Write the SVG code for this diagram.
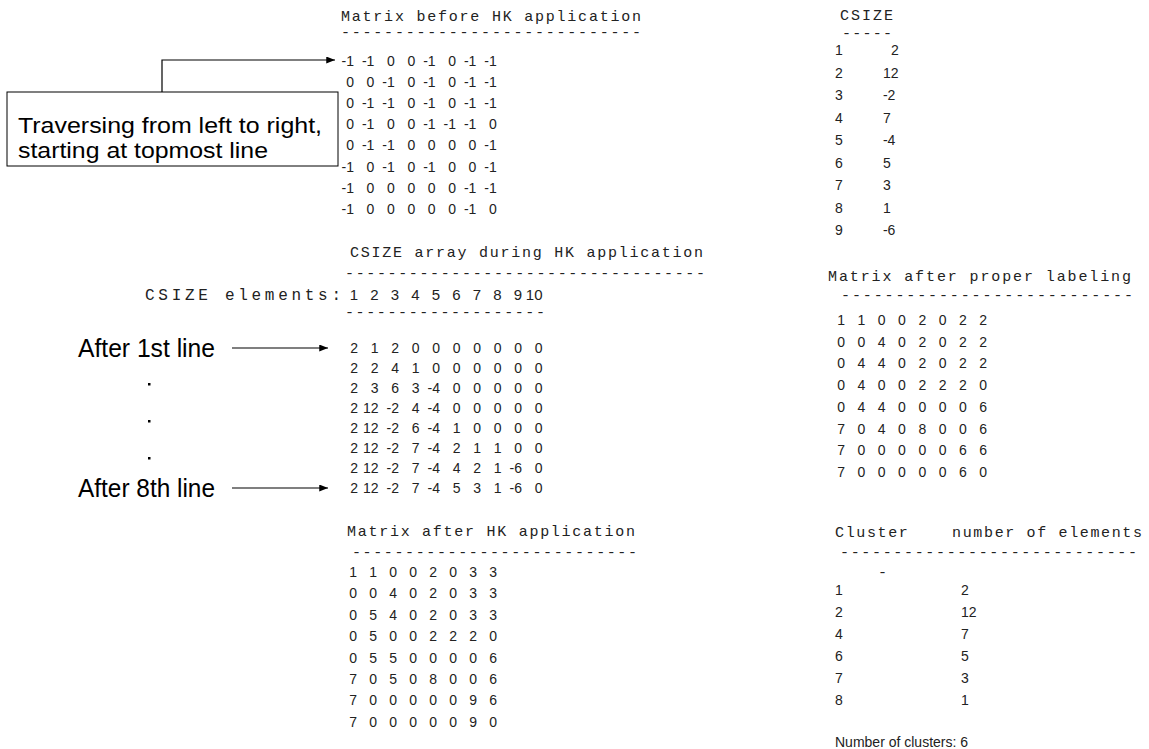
<svg xmlns="http://www.w3.org/2000/svg" width="1149" height="749" viewBox="0 0 1149 749">
<style>
.m{font-family:"Liberation Mono","Courier New",monospace;font-size:15px;fill:#222}
.mb{font-family:"Liberation Mono","Courier New",monospace;font-size:16px;fill:#222}
.n{font-family:"Liberation Sans",Arial,sans-serif;font-size:14px;fill:#222;text-anchor:end}
.s{font-family:"Liberation Sans",Arial,sans-serif;font-size:14px;fill:#222}
.big{font-family:"Liberation Sans",Arial,sans-serif;font-size:25px;fill:#000}
.bx{font-family:"Liberation Sans",Arial,sans-serif;font-size:22px;fill:#000}
.ln{fill:none;stroke:#000;stroke-width:1.2}
</style>
<defs>
<marker id="ah" markerUnits="userSpaceOnUse" viewBox="0 0 10 8" refX="10" refY="4" markerWidth="9" markerHeight="7" orient="auto"><path d="M0,0 L10,4 L0,8 z" fill="#000"/></marker>
</defs>
<rect width="1149" height="749" fill="#fff"/>

<g id="callout">
<rect x="7" y="92" width="331" height="74" fill="#fff" stroke="#000" stroke-width="1"/>
<text class="bx" x="18" y="133" textLength="304" lengthAdjust="spacingAndGlyphs">Traversing from left to right,</text>
<text class="bx" x="18" y="158" textLength="250" lengthAdjust="spacingAndGlyphs">starting at topmost line</text>
</g>

<g id="labels-left">
<text class="big" x="78" y="357" textLength="137" lengthAdjust="spacingAndGlyphs">After 1st line</text>
<text class="big" x="78" y="497" textLength="137" lengthAdjust="spacingAndGlyphs">After 8th line</text>
<rect x="148" y="383" width="2.5" height="2.5" fill="#000"/>
<rect x="148" y="420" width="2.5" height="2.5" fill="#000"/>
<rect x="148" y="457" width="2.5" height="2.5" fill="#000"/>
</g>

<g id="connectors">
<path class="ln" d="M162,92 V60 H335" marker-end="url(#ah)"/>
<path class="ln" d="M232,348 H328" marker-end="url(#ah)"/>
<path class="ln" d="M232,488 H328" marker-end="url(#ah)"/>
</g>

<g id="matrix-before">
<text class="m" x="341" y="21" textLength="300">Matrix before HK application</text>
<text class="m" x="341" y="36.5" textLength="300">----------------------------</text>
<text class="n" y="65.5"><tspan x="354">-1</tspan><tspan x="374.4">-1</tspan><tspan x="394.8"> 0</tspan><tspan x="415.2"> 0</tspan><tspan x="435.6">-1</tspan><tspan x="456"> 0</tspan><tspan x="476.4">-1</tspan><tspan x="496.8">-1</tspan></text>
<text class="n" y="86.7"><tspan x="354">0</tspan><tspan x="374.4"> 0</tspan><tspan x="394.8">-1</tspan><tspan x="415.2"> 0</tspan><tspan x="435.6">-1</tspan><tspan x="456"> 0</tspan><tspan x="476.4">-1</tspan><tspan x="496.8">-1</tspan></text>
<text class="n" y="107.9"><tspan x="354">0</tspan><tspan x="374.4">-1</tspan><tspan x="394.8">-1</tspan><tspan x="415.2"> 0</tspan><tspan x="435.6">-1</tspan><tspan x="456"> 0</tspan><tspan x="476.4">-1</tspan><tspan x="496.8">-1</tspan></text>
<text class="n" y="129.1"><tspan x="354">0</tspan><tspan x="374.4">-1</tspan><tspan x="394.8"> 0</tspan><tspan x="415.2"> 0</tspan><tspan x="435.6">-1</tspan><tspan x="456">-1</tspan><tspan x="476.4">-1</tspan><tspan x="496.8"> 0</tspan></text>
<text class="n" y="150.3"><tspan x="354">0</tspan><tspan x="374.4">-1</tspan><tspan x="394.8">-1</tspan><tspan x="415.2"> 0</tspan><tspan x="435.6"> 0</tspan><tspan x="456"> 0</tspan><tspan x="476.4"> 0</tspan><tspan x="496.8">-1</tspan></text>
<text class="n" y="171.5"><tspan x="354">-1</tspan><tspan x="374.4"> 0</tspan><tspan x="394.8">-1</tspan><tspan x="415.2"> 0</tspan><tspan x="435.6">-1</tspan><tspan x="456"> 0</tspan><tspan x="476.4"> 0</tspan><tspan x="496.8">-1</tspan></text>
<text class="n" y="192.7"><tspan x="354">-1</tspan><tspan x="374.4"> 0</tspan><tspan x="394.8"> 0</tspan><tspan x="415.2"> 0</tspan><tspan x="435.6"> 0</tspan><tspan x="456"> 0</tspan><tspan x="476.4">-1</tspan><tspan x="496.8">-1</tspan></text>
<text class="n" y="213.9"><tspan x="354">-1</tspan><tspan x="374.4"> 0</tspan><tspan x="394.8"> 0</tspan><tspan x="415.2"> 0</tspan><tspan x="435.6"> 0</tspan><tspan x="456"> 0</tspan><tspan x="476.4">-1</tspan><tspan x="496.8"> 0</tspan></text>
</g>

<g id="csize-array">
<text class="m" x="350" y="257" textLength="353">CSIZE array during HK application</text>
<text class="m" x="345" y="277.5" textLength="360">----------------------------------</text>
<text class="mb" x="341" y="300" text-anchor="end" textLength="196">CSIZE elements:</text>
<text class="n" y="300" style="font-size:15px"><tspan x="358">1</tspan><tspan x="378.5"> 2</tspan><tspan x="399"> 3</tspan><tspan x="419.5"> 4</tspan><tspan x="440"> 5</tspan><tspan x="460.5"> 6</tspan><tspan x="481"> 7</tspan><tspan x="501.5"> 8</tspan><tspan x="522"> 9</tspan><tspan x="542.5">10</tspan></text>
<text class="m" x="345" y="316.5" textLength="200">-------------------</text>
<text class="n" y="353"><tspan x="358">2</tspan><tspan x="378.5"> 1</tspan><tspan x="399"> 2</tspan><tspan x="419.5"> 0</tspan><tspan x="440"> 0</tspan><tspan x="460.5"> 0</tspan><tspan x="481"> 0</tspan><tspan x="501.5"> 0</tspan><tspan x="522"> 0</tspan><tspan x="542.5"> 0</tspan></text>
<text class="n" y="373"><tspan x="358">2</tspan><tspan x="378.5"> 2</tspan><tspan x="399"> 4</tspan><tspan x="419.5"> 1</tspan><tspan x="440"> 0</tspan><tspan x="460.5"> 0</tspan><tspan x="481"> 0</tspan><tspan x="501.5"> 0</tspan><tspan x="522"> 0</tspan><tspan x="542.5"> 0</tspan></text>
<text class="n" y="393"><tspan x="358">2</tspan><tspan x="378.5"> 3</tspan><tspan x="399"> 6</tspan><tspan x="419.5"> 3</tspan><tspan x="440">-4</tspan><tspan x="460.5"> 0</tspan><tspan x="481"> 0</tspan><tspan x="501.5"> 0</tspan><tspan x="522"> 0</tspan><tspan x="542.5"> 0</tspan></text>
<text class="n" y="413"><tspan x="358">2</tspan><tspan x="378.5">12</tspan><tspan x="399">-2</tspan><tspan x="419.5"> 4</tspan><tspan x="440">-4</tspan><tspan x="460.5"> 0</tspan><tspan x="481"> 0</tspan><tspan x="501.5"> 0</tspan><tspan x="522"> 0</tspan><tspan x="542.5"> 0</tspan></text>
<text class="n" y="433"><tspan x="358">2</tspan><tspan x="378.5">12</tspan><tspan x="399">-2</tspan><tspan x="419.5"> 6</tspan><tspan x="440">-4</tspan><tspan x="460.5"> 1</tspan><tspan x="481"> 0</tspan><tspan x="501.5"> 0</tspan><tspan x="522"> 0</tspan><tspan x="542.5"> 0</tspan></text>
<text class="n" y="453"><tspan x="358">2</tspan><tspan x="378.5">12</tspan><tspan x="399">-2</tspan><tspan x="419.5"> 7</tspan><tspan x="440">-4</tspan><tspan x="460.5"> 2</tspan><tspan x="481"> 1</tspan><tspan x="501.5"> 1</tspan><tspan x="522"> 0</tspan><tspan x="542.5"> 0</tspan></text>
<text class="n" y="473"><tspan x="358">2</tspan><tspan x="378.5">12</tspan><tspan x="399">-2</tspan><tspan x="419.5"> 7</tspan><tspan x="440">-4</tspan><tspan x="460.5"> 4</tspan><tspan x="481"> 2</tspan><tspan x="501.5"> 1</tspan><tspan x="522">-6</tspan><tspan x="542.5"> 0</tspan></text>
<text class="n" y="493"><tspan x="358">2</tspan><tspan x="378.5">12</tspan><tspan x="399">-2</tspan><tspan x="419.5"> 7</tspan><tspan x="440">-4</tspan><tspan x="460.5"> 5</tspan><tspan x="481"> 3</tspan><tspan x="501.5"> 1</tspan><tspan x="522">-6</tspan><tspan x="542.5"> 0</tspan></text>
</g>

<g id="matrix-after">
<text class="m" x="347" y="536" textLength="288">Matrix after HK application</text>
<text class="m" x="352" y="556.5" textLength="285">---------------------------</text>
<text class="n" y="577"><tspan x="357">1</tspan><tspan x="377"> 1</tspan><tspan x="397"> 0</tspan><tspan x="417"> 0</tspan><tspan x="437"> 2</tspan><tspan x="457"> 0</tspan><tspan x="477"> 3</tspan><tspan x="497"> 3</tspan></text>
<text class="n" y="598.4"><tspan x="357">0</tspan><tspan x="377"> 0</tspan><tspan x="397"> 4</tspan><tspan x="417"> 0</tspan><tspan x="437"> 2</tspan><tspan x="457"> 0</tspan><tspan x="477"> 3</tspan><tspan x="497"> 3</tspan></text>
<text class="n" y="619.8"><tspan x="357">0</tspan><tspan x="377"> 5</tspan><tspan x="397"> 4</tspan><tspan x="417"> 0</tspan><tspan x="437"> 2</tspan><tspan x="457"> 0</tspan><tspan x="477"> 3</tspan><tspan x="497"> 3</tspan></text>
<text class="n" y="641.2"><tspan x="357">0</tspan><tspan x="377"> 5</tspan><tspan x="397"> 0</tspan><tspan x="417"> 0</tspan><tspan x="437"> 2</tspan><tspan x="457"> 2</tspan><tspan x="477"> 2</tspan><tspan x="497"> 0</tspan></text>
<text class="n" y="662.6"><tspan x="357">0</tspan><tspan x="377"> 5</tspan><tspan x="397"> 5</tspan><tspan x="417"> 0</tspan><tspan x="437"> 0</tspan><tspan x="457"> 0</tspan><tspan x="477"> 0</tspan><tspan x="497"> 6</tspan></text>
<text class="n" y="684"><tspan x="357">7</tspan><tspan x="377"> 0</tspan><tspan x="397"> 5</tspan><tspan x="417"> 0</tspan><tspan x="437"> 8</tspan><tspan x="457"> 0</tspan><tspan x="477"> 0</tspan><tspan x="497"> 6</tspan></text>
<text class="n" y="705.4"><tspan x="357">7</tspan><tspan x="377"> 0</tspan><tspan x="397"> 0</tspan><tspan x="417"> 0</tspan><tspan x="437"> 0</tspan><tspan x="457"> 0</tspan><tspan x="477"> 9</tspan><tspan x="497"> 6</tspan></text>
<text class="n" y="726.8"><tspan x="357">7</tspan><tspan x="377"> 0</tspan><tspan x="397"> 0</tspan><tspan x="417"> 0</tspan><tspan x="437"> 0</tspan><tspan x="457"> 0</tspan><tspan x="477"> 9</tspan><tspan x="497"> 0</tspan></text>
</g>

<g id="csize-list">
<text class="m" x="840" y="20" textLength="53">CSIZE</text>
<text class="m" x="842" y="37.5" textLength="50">-----</text>
<text class="s" y="55"><tspan x="835">1</tspan><tspan x="887"> 2</tspan></text>
<text class="s" y="77.5"><tspan x="835">2</tspan><tspan x="879"> 12</tspan></text>
<text class="s" y="100"><tspan x="835">3</tspan><tspan x="879"> -2</tspan></text>
<text class="s" y="122.5"><tspan x="835">4</tspan><tspan x="879"> 7</tspan></text>
<text class="s" y="145"><tspan x="835">5</tspan><tspan x="879"> -4</tspan></text>
<text class="s" y="167.5"><tspan x="835">6</tspan><tspan x="879"> 5</tspan></text>
<text class="s" y="190"><tspan x="835">7</tspan><tspan x="879"> 3</tspan></text>
<text class="s" y="212.5"><tspan x="835">8</tspan><tspan x="879"> 1</tspan></text>
<text class="s" y="235"><tspan x="835">9</tspan><tspan x="879"> -6</tspan></text>
</g>

<g id="matrix-proper">
<text class="m" x="828" y="281" textLength="303">Matrix after proper labeling</text>
<text class="m" x="841" y="299.5" textLength="292">---------------------------</text>
<text class="n" y="325"><tspan x="845">1</tspan><tspan x="865.3"> 1</tspan><tspan x="885.6"> 0</tspan><tspan x="905.9"> 0</tspan><tspan x="926.2"> 2</tspan><tspan x="946.5"> 0</tspan><tspan x="966.8"> 2</tspan><tspan x="987.1"> 2</tspan></text>
<text class="n" y="346.7"><tspan x="845">0</tspan><tspan x="865.3"> 0</tspan><tspan x="885.6"> 4</tspan><tspan x="905.9"> 0</tspan><tspan x="926.2"> 2</tspan><tspan x="946.5"> 0</tspan><tspan x="966.8"> 2</tspan><tspan x="987.1"> 2</tspan></text>
<text class="n" y="368.4"><tspan x="845">0</tspan><tspan x="865.3"> 4</tspan><tspan x="885.6"> 4</tspan><tspan x="905.9"> 0</tspan><tspan x="926.2"> 2</tspan><tspan x="946.5"> 0</tspan><tspan x="966.8"> 2</tspan><tspan x="987.1"> 2</tspan></text>
<text class="n" y="390.1"><tspan x="845">0</tspan><tspan x="865.3"> 4</tspan><tspan x="885.6"> 0</tspan><tspan x="905.9"> 0</tspan><tspan x="926.2"> 2</tspan><tspan x="946.5"> 2</tspan><tspan x="966.8"> 2</tspan><tspan x="987.1"> 0</tspan></text>
<text class="n" y="411.8"><tspan x="845">0</tspan><tspan x="865.3"> 4</tspan><tspan x="885.6"> 4</tspan><tspan x="905.9"> 0</tspan><tspan x="926.2"> 0</tspan><tspan x="946.5"> 0</tspan><tspan x="966.8"> 0</tspan><tspan x="987.1"> 6</tspan></text>
<text class="n" y="433.5"><tspan x="845">7</tspan><tspan x="865.3"> 0</tspan><tspan x="885.6"> 4</tspan><tspan x="905.9"> 0</tspan><tspan x="926.2"> 8</tspan><tspan x="946.5"> 0</tspan><tspan x="966.8"> 0</tspan><tspan x="987.1"> 6</tspan></text>
<text class="n" y="455.2"><tspan x="845">7</tspan><tspan x="865.3"> 0</tspan><tspan x="885.6"> 0</tspan><tspan x="905.9"> 0</tspan><tspan x="926.2"> 0</tspan><tspan x="946.5"> 0</tspan><tspan x="966.8"> 6</tspan><tspan x="987.1"> 6</tspan></text>
<text class="n" y="476.9"><tspan x="845">7</tspan><tspan x="865.3"> 0</tspan><tspan x="885.6"> 0</tspan><tspan x="905.9"> 0</tspan><tspan x="926.2"> 0</tspan><tspan x="946.5"> 0</tspan><tspan x="966.8"> 6</tspan><tspan x="987.1"> 0</tspan></text>
</g>

<g id="cluster-table">
<text class="m" x="835" y="537" textLength="307" xml:space="preserve">Cluster    number of elements</text>
<text class="m" x="840" y="556.5" textLength="297">----------------------------</text>
<text class="m" x="878" y="576.5">-</text>
<text class="s" y="595"><tspan x="835">1</tspan><tspan x="957"> 2</tspan></text>
<text class="s" y="617"><tspan x="835">2</tspan><tspan x="957"> 12</tspan></text>
<text class="s" y="639"><tspan x="835">4</tspan><tspan x="957"> 7</tspan></text>
<text class="s" y="661"><tspan x="835">6</tspan><tspan x="957"> 5</tspan></text>
<text class="s" y="683"><tspan x="835">7</tspan><tspan x="957"> 3</tspan></text>
<text class="s" y="705"><tspan x="835">8</tspan><tspan x="957"> 1</tspan></text>
<text class="s" x="835" y="747">Number of clusters: 6</text>
</g>
</svg>
